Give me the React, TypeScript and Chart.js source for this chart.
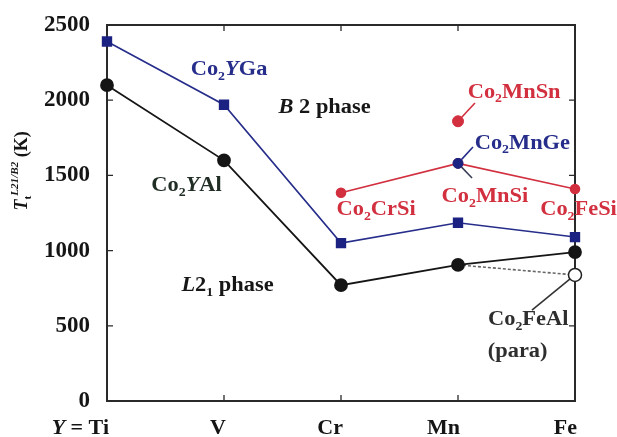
import React, { useEffect, useRef } from "react";
import { Chart, registerables } from "chart.js";

Chart.register(...registerables);

// ---- data ----
const elements = ["Ti", "V", "Cr", "Mn", "Fe"];
const xTickLabels = ["= Ti", "V", "Cr", "Mn", "Fe"];
const yTicks = [0, 500, 1000, 1500, 2000, 2500];
const co2YGa = [2390, 1970, 1050, 1185, 1090];
const co2YAl = [2100, 1600, 770, 905, 990];
const co2YSi = [null, null, 1385, 1580, 1410];
const co2MnSn = 1860;
const co2MnGe = 1580;
const co2FeAlPara = 838;

const FONT = '"Liberation Serif", "Times New Roman", serif';
const BLUE = "#262d8a";
const BLUE_PT = "#1b2282";
const RED = "#d22f3f";
const BLACK = "#151515";

type Part = { t: string; i?: boolean; sub?: boolean; sup?: boolean };

function drawRich(
  ctx: CanvasRenderingContext2D,
  x: number,
  y: number,
  parts: Part[],
  size: number,
  color: string,
  align: "left" | "center" | "right",
  sx = 1
) {
  const fontOf = (p: Part) => {
    const s = p.sub || p.sup ? size * 0.62 : size;
    return `${p.i ? "italic " : ""}bold ${s}px ${FONT}`;
  };
  let w = 0;
  const widths: number[] = [];
  for (const p of parts) {
    ctx.font = fontOf(p);
    const m = ctx.measureText(p.t).width;
    widths.push(m);
    w += m;
  }
  ctx.save();
  ctx.translate(x, y);
  ctx.scale(sx, 1);
  let cx = align === "left" ? 0 : align === "center" ? -w / 2 : -w;
  ctx.fillStyle = color;
  ctx.textBaseline = "middle";
  ctx.textAlign = "left";
  parts.forEach((p, k) => {
    ctx.font = fontOf(p);
    const dy = p.sub ? size * 0.32 : p.sup ? -size * 0.38 : 0;
    ctx.fillText(p.t, cx, dy);
    cx += widths[k];
  });
  ctx.restore();
}

const pts = (arr: (number | null)[]) =>
  arr.map((v, i) => (v === null ? null : { x: i, y: v })).filter((p) => p !== null) as {
    x: number;
    y: number;
  }[];

export default function App() {
  const ref = useRef<HTMLCanvasElement | null>(null);

  useEffect(() => {
    document.body.style.margin = "0";
    const canvas = ref.current!;

    const overlay = {
      id: "overlay",
      beforeDatasetsDraw(chart: any) {
        const ctx: CanvasRenderingContext2D = chart.ctx;
        const { left, right, top, bottom } = chart.chartArea;
        const xs = chart.scales.x;
        const ys = chart.scales.y;
        ctx.save();
        // frame
        ctx.strokeStyle = "#2a2a2a";
        ctx.lineWidth = 2;
        ctx.strokeRect(left, top, right - left, bottom - top);
        // inward ticks
        ctx.lineWidth = 1.3;
        const tl = 6;
        yTicks.forEach((v) => {
          const py = ys.getPixelForValue(v);
          ctx.beginPath();
          ctx.moveTo(left, py);
          ctx.lineTo(left + tl, py);
          ctx.moveTo(right, py);
          ctx.lineTo(right - tl, py);
          ctx.stroke();
        });
        elements.forEach((_, i) => {
          const px = xs.getPixelForValue(i);
          ctx.beginPath();
          ctx.moveTo(px, bottom);
          ctx.lineTo(px, bottom - tl);
          ctx.moveTo(px, top);
          ctx.lineTo(px, top + tl);
          ctx.stroke();
        });
        // leader lines
        const lead = (x0: number, y0: number, x1: number, y1: number, c: string) => {
          ctx.strokeStyle = c;
          ctx.lineWidth = 1.6;
          ctx.beginPath();
          ctx.moveTo(xs.getPixelForValue(x0), ys.getPixelForValue(y0));
          ctx.lineTo(xs.getPixelForValue(x1), ys.getPixelForValue(y1));
          ctx.stroke();
        };
        lead(3, co2MnSn, 3.145, 1981, RED);
        lead(3, co2MnGe, 3.128, 1689, BLUE);
        lead(3, co2MnGe, 3.12, 1483, "#3a3f55");
        lead(4, co2FeAlPara, 3.632, 605, "#333");
        ctx.restore();
      },
      afterDatasetsDraw(chart: any) {
        const ctx: CanvasRenderingContext2D = chart.ctx;
        const xs = chart.scales.x;
        const ys = chart.scales.y;
        const X = (v: number) => xs.getPixelForValue(v);
        const Y = (v: number) => ys.getPixelForValue(v);
        const S = 20;
        const SX = 1.12;
        const co = (rest: Part[]): Part[] => [{ t: "Co" }, { t: "2", sub: true }, ...rest];
        drawRich(ctx, X(1.043), Y(2200), co([{ t: "Y", i: true }, { t: "Ga" }]), S, BLUE, "center", SX);
        drawRich(ctx, X(1.86), Y(1948), [{ t: "B", i: true }, { t: " 2 phase" }], S, "#161616", "center", SX);
        drawRich(ctx, X(0.68), Y(1430), co([{ t: "Y", i: true }, { t: "Al" }]), S, "#1f2d24", "center", SX);
        drawRich(ctx, X(1.03), Y(765), [{ t: "L", i: true }, { t: "2" }, { t: "1", sub: true }, { t: " phase" }], S, "#161616", "center", SX);
        drawRich(ctx, X(3.48), Y(2050), co([{ t: "MnSn" }]), S, RED, "center", SX);
        drawRich(ctx, X(3.55), Y(1712), co([{ t: "MnGe" }]), S, BLUE, "center", SX);
        drawRich(ctx, X(2.3), Y(1270), co([{ t: "CrSi" }]), S, RED, "center", SX);
        drawRich(ctx, X(3.23), Y(1356), co([{ t: "MnSi" }]), S, RED, "center", SX);
        drawRich(ctx, X(4.03), Y(1270), co([{ t: "FeSi" }]), S, RED, "center", SX);
        drawRich(ctx, X(3.6), Y(538), co([{ t: "FeAl" }]), S, "#2e2e2e", "center", SX);
        drawRich(ctx, X(3.51), Y(325), [{ t: "(para)" }], S, "#2e2e2e", "center", SX);

        // x tick labels
        const base = chart.chartArea.bottom + 27;
        xTickLabels.forEach((lab, i) => {
          const parts: Part[] = i === 0 ? [{ t: "Y", i: true }, { t: " " + lab }] : [{ t: lab }];
          drawRich(ctx, X(i) + 2, base, parts, 22, "#151515", "right", 1);
        });

        // y title
        ctx.save();
        ctx.translate(22, Y(1530));
        ctx.rotate(-Math.PI / 2);
        drawRich(
          ctx,
          0,
          0,
          [
            { t: "T", i: true },
            { t: "t", sub: true },
            { t: "L21/B2", sup: true, i: true },
            { t: " (K)" },
          ],
          18,
          "#151515",
          "center",
          1
        );
        ctx.restore();
      },
    };

    const chart = new Chart(canvas, {
      type: "line",
      data: {
        datasets: [
          {
            label: "Co2MnGe",
            data: [{ x: 3, y: co2MnGe }],
            showLine: false,
            pointRadius: 5,
            pointBackgroundColor: BLUE_PT,
            pointBorderColor: BLUE_PT,
            clip: false,
            order: 1,
          },
          {
            label: "Co2MnSn",
            data: [{ x: 3, y: co2MnSn }],
            showLine: false,
            pointRadius: 5.5,
            pointBackgroundColor: RED,
            pointBorderColor: RED,
            clip: false,
            order: 2,
          },
          {
            label: "Co2YAl",
            data: pts(co2YAl),
            borderColor: BLACK,
            borderWidth: 1.8,
            pointRadius: 6,
            pointBackgroundColor: BLACK,
            pointBorderColor: BLACK,
            clip: false,
            order: 3,
          },
          {
            label: "Co2YGa",
            data: pts(co2YGa),
            borderColor: BLUE,
            borderWidth: 1.6,
            pointStyle: "rect",
            pointRadius: 6.2,
            pointBackgroundColor: BLUE_PT,
            pointBorderColor: BLUE_PT,
            clip: false,
            order: 4,
          },
          {
            label: "Co2YSi",
            data: pts(co2YSi),
            borderColor: RED,
            borderWidth: 1.6,
            pointRadius: 4.5,
            pointBackgroundColor: RED,
            pointBorderColor: RED,
            clip: false,
            order: 5,
          },
          {
            label: "Co2FeAl (para)",
            data: [
              { x: 3, y: co2YAl[3] },
              { x: 4, y: co2FeAlPara },
            ],
            borderColor: "#666",
            borderWidth: 1.6,
            borderDash: [3, 2],
            pointRadius: [0, 6.5],
            pointBackgroundColor: "#ffffff",
            pointBorderColor: "#222",
            pointBorderWidth: 1.5,
            clip: false,
            order: 6,
          },
        ],
      },
      options: {
        animation: false,
        responsive: false,
        events: [],
        layout: { padding: { left: 0, right: 42, top: 25, bottom: 0 } },
        plugins: { legend: { display: false }, tooltip: { enabled: false }, title: { display: false } },
        scales: {
          x: {
            type: "linear",
            min: 0,
            max: elements.length - 1,
            grid: { display: false },
            border: { display: false },
            ticks: { display: false },
            afterFit: (s: any) => {
              s.height = 36;
            },
          },
          y: {
            type: "linear",
            min: 0,
            max: 2500,
            grid: { display: false },
            border: { display: false },
            afterBuildTicks: (s: any) => {
              s.ticks = yTicks.map((v) => ({ value: v }));
            },
            ticks: {
              color: "#151515",
              padding: 9,
              font: { family: FONT, weight: "bold", size: 23 },
              callback: (v: any) => String(v),
            },
            afterFit: (s: any) => {
              s.width = 107;
            },
          },
        },
      },
      plugins: [overlay],
    } as any);

    return () => chart.destroy();
  }, []);

  return <canvas ref={ref} width={617} height={437} style={{ display: "block" }} />;
}
